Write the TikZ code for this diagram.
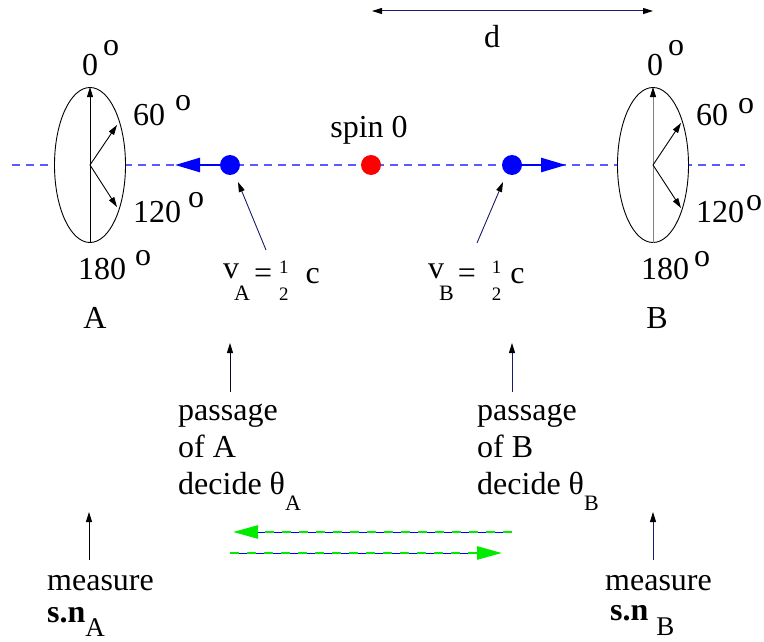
\documentclass[tikz,border=0pt]{standalone}
\usepackage{fontspec}
\setmainfont{Liberation Serif}
\usetikzlibrary{arrows.meta,shapes.geometric}
\definecolor{navy}{RGB}{25,25,110}
\definecolor{dashblue}{RGB}{90,90,255}
\definecolor{brightgreen}{RGB}{0,235,0}
\newcommand\dg[2]{\hspace{#1}\raisebox{#2}{o}}
\newcommand\vlab[3]{\raisebox{5pt}{v}\hspace{-5pt}\raisebox{-17pt}{\fontsize{22}{22}\selectfont #1}\hspace{4pt}=\hspace{#2}\raisebox{-17pt}{\fontsize{19}{27}\selectfont\begin{tabular}[b]{@{}c@{}}1\\2\end{tabular}}\hspace{#3}c}
\newcommand\lowsub[3]{\raisebox{-#1}{\fontsize{#2}{#2}\selectfont #3}}
\begin{document}
\begin{tikzpicture}[x=1pt,y=-1pt,
  txt/.style={inner sep=0pt, font=\fontsize{32}{37}\selectfont},
  smallarr/.style={-{Triangle[length=10pt,width=6pt,black]}, line width=0.9pt},
  bigarr/.style={-{Triangle[length=25pt,width=14pt]}, line width=2.6pt, blue},
  dot/.style={circle, inner sep=0pt, minimum size=20pt},
  dial/.style={ellipse, draw, fill=white, line width=0.9pt, minimum width=71pt, minimum height=155pt, inner sep=0pt},
  greenarr/.style={brightgreen, line width=2.5pt, dash pattern=on 9pt off 8pt, -{Triangle[length=25pt,width=13pt]}},
  bluebase/.style={blue, line width=1pt}
]
\useasboundingbox (0,0) rectangle (764,642);

% distance d
\coordinate (d0) at (372,11);
\coordinate (d1) at (653,11);
\draw[navy, line width=1pt, {Triangle[length=10pt,width=6pt,black]}-{Triangle[length=10pt,width=6pt,black]}] (d0) -- (d1);
\node[txt] (dlab) at (492,37) {d};

% axis
\coordinate (L0) at (12,165);
\coordinate (L1) at (745,165);
\draw[dashblue, line width=1.2pt, dash pattern=on 8pt off 6pt] (L0) -- (L1);

% dial A
\node[dial] (ellA) at (90,165) {};
\coordinate (a60) at (117,125);
\coordinate (a120) at (117,207);
\draw[line width=0.9pt] (ellA.south) -- (ellA.center);
\draw[smallarr] (ellA.center) -- (ellA.north);
\draw[smallarr] (ellA.center) -- (a60);
\draw[smallarr] (ellA.center) -- (a120);

% dial B
\node[dial] (ellB) at (653,165) {};
\coordinate (b60) at (681,123);
\coordinate (b120) at (681,208);
\draw[gray, line width=1pt] (ellB.south) -- (ellB.center);
\draw[smallarr, gray] (ellB.center) -- (ellB.north);
\draw[smallarr] (ellB.center) -- (b60);
\draw[smallarr] (ellB.center) -- (b120);

% particles
\node[dot, fill=blue] (pA) at (230,165) {};
\node[dot, fill=red] (s0) at (371,165) {};
\node[dot, fill=blue] (pB) at (512,165) {};
\coordinate (tA) at (175,165);
\coordinate (tB) at (566,165);
\draw[bigarr] (pA) -- (tA);
\draw[bigarr] (pB) -- (tB);
\node[txt, anchor=base] (spin) at (369,138) {spin 0};

% degree labels A
\node[txt, anchor=base west] (a0l) at (82,76) {0\dg{5pt}{20pt}};
\node[txt, anchor=base west] (a60l) at (133,125) {60\dg{10pt}{15pt}};
\node[txt, anchor=base west] (a120l) at (133,222) {120\dg{7pt}{14pt}};
\node[txt, anchor=base west] (a180l) at (78,279) {180\dg{9pt}{14pt}};
% degree labels B
\node[txt, anchor=base west] (b0l) at (647,76) {0\dg{5pt}{20pt}};
\node[txt, anchor=base west] (b60l) at (696,125) {60\dg{10pt}{12pt}};
\node[txt, anchor=base west] (b120l) at (696,222) {120\dg{2pt}{12pt}};
\node[txt, anchor=base west] (b180l) at (641,279) {180\dg{5pt}{13pt}};

\node[txt] (labA) at (95,318) {A};
\node[txt] (labB) at (657,318) {B};

% velocities
\node[txt, anchor=base west] (vA) at (223,283) {\vlab{A}{7pt}{17pt}};
\node[txt, anchor=base west] (vB) at (428,283) {\vlab{B}{16pt}{9pt}};
\coordinate (vAt) at (266,250);
\coordinate (vAh) at (238,182);
\coordinate (vBt) at (477,243);
\coordinate (vBh) at (503,182);
\draw[smallarr, navy] (vAt) -- (vAh);
\draw[smallarr, navy] (vBt) -- (vBh);

% passage
\coordinate (pa0) at (230,392);
\coordinate (pa1) at (230,343);
\coordinate (pb0) at (512,392);
\coordinate (pb1) at (512,343);
\draw[smallarr, black!70!navy] (pa0) -- (pa1);
\draw[smallarr, navy] (pb0) -- (pb1);
\node[txt, anchor=base west, align=left] (pasA) at (178,494) {passage\\of A\\decide θ\lowsub{16pt}{22}{A}};
\node[txt, anchor=base west, align=left] (pasB) at (477,494) {passage\\of B\\decide θ\lowsub{16pt}{22}{B}};

% communication arrows
\coordinate (g1s) at (512,532);
\coordinate (g1e) at (233,532);
\coordinate (g2s) at (230,553);
\coordinate (g2e) at (502,553);
\draw[bluebase, shorten >=15pt] (g1s) -- (g1e);
\draw[greenarr] (g1s) -- (g1e);
\draw[bluebase, shorten >=15pt] (g2s) -- (g2e);
\draw[greenarr] (g2s) -- (g2e);

% measurement
\coordinate (ma0) at (89,560);
\coordinate (ma1) at (89,512);
\coordinate (mb0) at (653,560);
\coordinate (mb1) at (653,512);
\draw[smallarr] (ma0) -- (ma1);
\draw[smallarr, navy] (mb0) -- (mb1);
\node[txt, anchor=base west, align=left] (mA) at (47,622) {measure\\[-5pt]\textbf{s.n}\lowsub{14pt}{27}{A}};
\node[txt, anchor=base west, align=left] (mB) at (605,620) {measure\\[-7pt]\hspace*{5pt}\textbf{s.n}\hspace{8pt}\lowsub{15pt}{27}{B}};
\end{tikzpicture}
\end{document}
